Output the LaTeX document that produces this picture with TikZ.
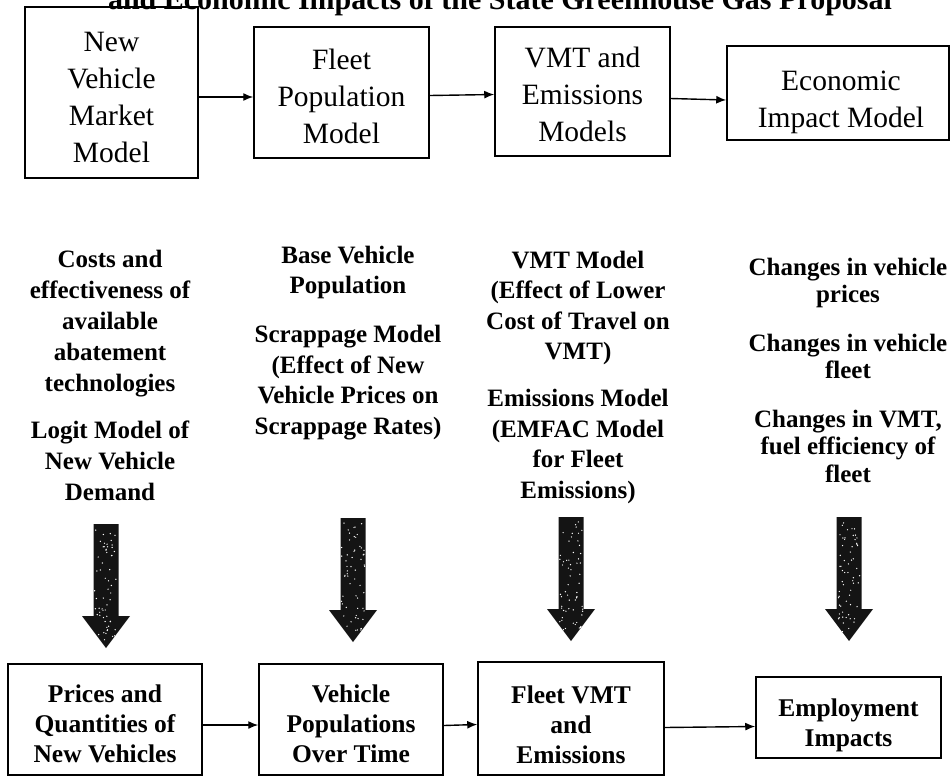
\documentclass[tikz,border=0pt]{standalone}
\usepackage{fontspec}
\setmainfont{Liberation Serif}
\usetikzlibrary{arrows.meta}
\newcommand\blockarrow[2]{%
  \begin{scope}
    \path[clip] (#1-12.5,#2) -- (#1+12.5,#2) -- (#1+12.5,#2+92) -- (#1+24,#2+92)
      -- (#1,#2+124) -- (#1-24,#2+92) -- (#1-12.5,#2+92) -- cycle;
    \fill[black!92] (#1-26,#2-1) rectangle (#1+26,#2+126);
    \foreach \k in {1,...,60}{%
      \pgfmathsetmacro\px{#1+12*rand}%
      \pgfmathsetmacro\py{#2+4+112*rnd}%
      \fill[white] (\px,\py) circle (0.7);}
  \end{scope}}
\begin{document}
\begin{tikzpicture}[x=1pt,y=-1pt,
  boxframe/.style={draw,line width=1.5pt,inner sep=0pt},
  toptext/.style={align=center,inner sep=0pt,font=\fontsize{29.5}{37}\selectfont},
  bottext/.style={align=center,inner sep=0pt,font=\bfseries\fontsize{25.5}{30}\selectfont},
  midtext/.style={align=center,inner sep=0pt},
  flow/.style={line width=1.4pt,-{Latex[length=10pt,width=8pt]}}]
\useasboundingbox (0,0) rectangle (951,777);
\fill[white] (0,0) rectangle (951,777);
\pgfmathsetseed{7}

% cut-off title
\node[anchor=base,inner sep=0pt,font=\bfseries\fontsize{30}{36}\selectfont] (title) at (500,9)
  {and Economic Impacts of the State Greenhouse Gas Proposal};

% top row
\node[boxframe,minimum width=173pt,minimum height=171pt] (t1) at (111.5,92.5) {};
\node[boxframe,minimum width=175pt,minimum height=131pt] (t2) at (341.5,92.5) {};
\node[boxframe,minimum width=175pt,minimum height=129pt] (t3) at (582.5,91.5) {};
\node[boxframe,minimum width=222pt,minimum height=94pt] (t4) at (838,93) {};
\node[toptext] (t1txt) at (111.5,97) {New\\Vehicle\\Market\\Model};
\node[toptext] (t2txt) at (341.5,96) {Fleet\\Population\\Model};
\node[toptext] (t3txt) at (582.5,94) {VMT and\\Emissions\\Models};
\node[toptext] (t4txt) at (841,102) {Economic\\Impact Model};

\draw[flow] ([yshift=-4.5pt]t1.east) -- ([yshift=-4.5pt]t2.west);
\draw[flow] ([yshift=-3pt]t2.east) -- ([yshift=-3pt]t3.west);
\draw[flow] ([yshift=-7pt]t3.east) -- ([yshift=-7pt]t4.west);

% middle texts
\node[midtext,font=\bfseries\fontsize{25}{31}\selectfont] (m1) at (110,375)
  {Costs and\\effectiveness of\\available\\abatement\\technologies\\[16pt]
   Logit Model of\\New Vehicle\\Demand};
\node[midtext,font=\bfseries\fontsize{25}{30.5}\selectfont] (m2) at (348,343)
  {Base Vehicle\\Population\\[18.5pt]Scrappage Model\\(Effect of New\\
   Vehicle Prices on\\Scrappage Rates)};
\node[midtext,font=\bfseries\fontsize{25}{30.5}\selectfont] (m3) at (578,377)
  {VMT Model\\(Effect of Lower\\Cost of Travel on\\VMT)\\[16.5pt]
   Emissions Model\\(EMFAC Model\\for Fleet\\Emissions)};
\node[midtext,font=\bfseries\fontsize{25}{27.5}\selectfont] (m4) at (848,370)
  {Changes in vehicle\\prices\\[21pt]Changes in vehicle\\fleet\\[21pt]
   Changes in VMT,\\fuel efficiency of\\fleet};

% big arrows
\blockarrow{106}{524}
\blockarrow{353}{518}
\blockarrow{571}{517}
\blockarrow{849}{517}

% bottom row
\node[boxframe,minimum width=194pt,minimum height=111pt] (b1) at (105,719.5) {};
\node[boxframe,minimum width=184pt,minimum height=111pt] (b2) at (351,719.5) {};
\node[boxframe,minimum width=186pt,minimum height=113pt] (b3) at (571,718.5) {};
\node[boxframe,minimum width=185pt,minimum height=81pt] (b4) at (848.5,717.5) {};
\node[bottext] (b1txt) at (105,723.5) {Prices and\\Quantities of\\New Vehicles};
\node[bottext] (b2txt) at (351,723.5) {Vehicle\\Populations\\Over Time};
\node[bottext] (b3txt) at (571,725) {Fleet VMT\\and\\Emissions};
\node[bottext] (b4txt) at (848.5,725) {Employment\\Impacts};

\draw[flow] ([yshift=-5.5pt]b1.east) -- ([yshift=-5.5pt]b2.west);
\draw[flow] ([yshift=-6pt]b2.east) -- ([yshift=-6pt]b3.west);
\draw[flow] ([yshift=-9pt]b3.east) -- ([yshift=-9pt]b4.west);
\end{tikzpicture}
\end{document}
